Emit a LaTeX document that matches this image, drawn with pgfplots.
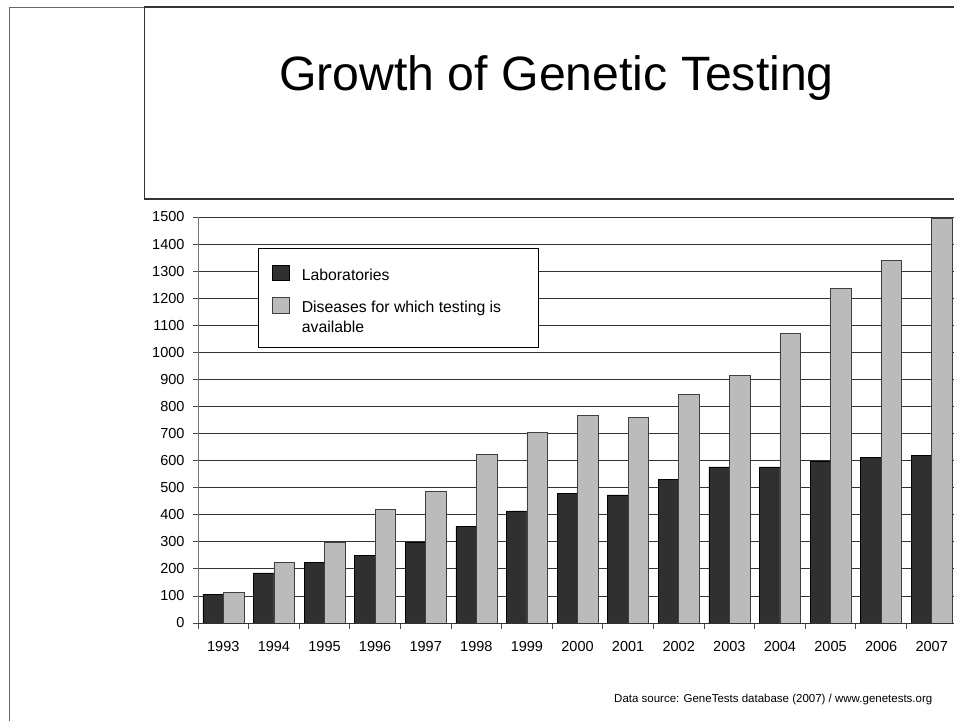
\documentclass[border=0pt]{standalone}
\usepackage{fontspec}
\setmainfont{Liberation Sans}
\usepackage{pgfplots}
\pgfplotsset{compat=1.18}
\definecolor{darkbar}{HTML}{303030}
\definecolor{lightbar}{HTML}{BBBBBB}
\begin{document}
\begin{tikzpicture}
\path[use as bounding box, clip] (0pt,0pt) rectangle (954pt,721pt);
\fill[white] (0pt,0pt) rectangle (954pt,721pt);
\draw[black!60, line width=1pt] (9.5pt,0pt) -- (9.5pt,713.5pt) -- (144.5pt,713.5pt);
\draw[black!80, line width=1.2pt] (1000pt,714pt) -- (144.5pt,714pt) -- (144.5pt,522pt) -- (1000pt,522pt);
\node[anchor=base, font=\fontsize{48.2}{55}\selectfont, inner sep=0pt] at (556.5pt,630.3pt) {Growth of Genetic Testing};
\node[anchor=base west, font=\fontsize{11.5}{13}\selectfont, inner sep=0pt] at (614pt,19pt) {Data source: GeneTests database (2007) / www.genetests.org};
\begin{axis}[
  at={(198pt,98pt)}, anchor=south west,
  scale only axis, width=756pt, height=406pt,
  xmin=-0.5, xmax=14.44, ymin=0, ymax=1500,
  ybar=0pt, bar width=20.5pt,
  axis lines*=left,
  axis line style={-},
  x axis line style={black!80, line width=0.9pt},
  y axis line style={black!55, line width=1pt},
  ytick={0,100,...,1500},
  ymajorgrids,
  major grid style={black!80, line width=0.8pt},
  xtick={0,...,14},
  xticklabels={1993,1994,1995,1996,1997,1998,1999,2000,2001,2002,2003,2004,2005,2006,2007},
  minor xtick={-0.5,0.5,...,13.5},
  major x tick style={draw=none},
  minor x tick style={black!70, line width=0.8pt},
  y tick style={black!70, line width=0.8pt},
  tick align=outside,
  major tick length=5pt,
  minor tick length=6pt,
  ticklabel style={font=\fontsize{14.5}{17}\selectfont},
  yticklabel style={xshift=-5pt},
  xticklabel style={yshift=-10pt},
  /pgf/number format/1000 sep={},
  /pgf/number format/assume math mode=true,
  legend style={at={(0.0794,0.9236)}, anchor=north west, draw=black, line width=0.8pt,
    fill=white, font=\fontsize{15.8}{20}\selectfont,
    inner xsep=14pt, inner ysep=10.8pt, row sep=0pt,
    cells={anchor=base west, inner ysep=0pt, text depth=0pt}},
  legend image code/.code={\draw[#1, line width=0.6pt] (0pt,0pt) rectangle (16.3pt,15.3pt);},
]
\addplot[fill=darkbar, draw=black, line width=0.6pt] coordinates {
(0,107) (1,185) (2,224) (3,250) (4,298) (5,356) (6,414) (7,479) (8,473) (9,531) (10,577) (11,577) (12,599) (13,613) (14,620)};
\addlegendentry{\hspace*{10.5pt}Laboratories\rule{0pt}{19.4pt}}
\addplot[fill=lightbar, draw=black!75, line width=0.6pt] coordinates {
(0,113) (1,224) (2,298) (3,420) (4,487) (5,624) (6,705) (7,767) (8,761) (9,846) (10,914) (11,1070) (12,1236) (13,1340) (14,1495)};
\addlegendentry{\hspace*{10.5pt}\makebox[221pt][l]{Diseases for which testing is}\rule{0pt}{26.8pt}}
\addlegendimage{empty legend}
\addlegendentry{\hspace*{10.5pt}available\rule{0pt}{14.4pt}}
\end{axis}
\end{tikzpicture}
\end{document}
